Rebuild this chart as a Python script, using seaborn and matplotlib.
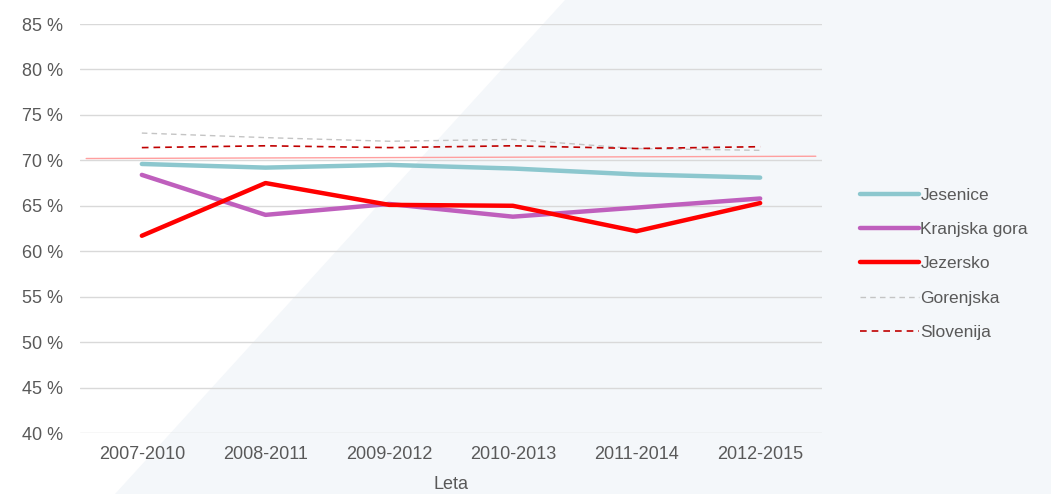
import numpy as np
import pandas as pd
import seaborn as sns
import matplotlib.pyplot as plt
from matplotlib.patches import Polygon
from matplotlib.ticker import FuncFormatter

# data
periods = ['2007-2010', '2008-2011', '2009-2012', '2010-2013', '2011-2014', '2012-2015']
jesenice = [69.6, 69.2, 69.5, 69.1, 68.45, 68.1]
kranjska_gora = [68.4, 64.0, 65.2, 63.8, 64.8, 65.8]
jezersko = [61.7, 67.5, 65.1, 65.0, 62.2, 65.3]
gorenjska = [73.0, 72.5, 72.1, 72.3, 71.3, 71.1]
slovenija = [71.4, 71.6, 71.4, 71.6, 71.3, 71.5]
ref_line = [70.2, 70.45]  # thin light red line across the plot
yticks = [40, 45, 50, 55, 60, 65, 70, 75, 80, 85]

series = [
    ('Jesenice', jesenice, '#8cc7ce', 3.2, '-'),
    ('Kranjska gora', kranjska_gora, '#bf5fbd', 3.2, '-'),
    ('Jezersko', jezersko, '#ff0000', 3.2, '-'),
    ('Gorenjska', gorenjska, '#c4c4c4', 1.0, (0, (4, 3))),
    ('Slovenija', slovenija, '#c00000', 1.2, (0, (4, 3))),
]

sns.set_theme(style='white')
plt.rcParams['font.family'] = ['Liberation Sans', 'DejaVu Sans']
text_col = '#595959'
fs = 13

fig = plt.figure(figsize=(10.51, 4.94), dpi=100)
fig.patch.set_facecolor('white')
# diagonal light background on the right
fig.patches.append(Polygon([(115 / 1051, 0), (565 / 1051, 1), (1, 1), (1, 0)],
                           closed=True, transform=fig.transFigure,
                           facecolor='#f4f7fa', edgecolor='none', zorder=-10))

ax = fig.add_axes([80 / 1051, 1 - 433 / 494, 742 / 1051, 409 / 494])
ax.set_facecolor('none')

for name, vals, col, lw, ls in series:
    df = pd.DataFrame({'Leta': periods, 'val': vals})
    sns.lineplot(data=df, x='Leta', y='val', ax=ax, color=col, linewidth=lw,
                 linestyle=ls, label=name, sort=False, solid_capstyle='round')

ax.plot([-0.45, 5.45], ref_line, color='#ff9f9f', linewidth=1.0, zorder=1)

ax.set_xlim(-0.5, 5.5)
ax.set_ylim(40, 85)
ax.set_yticks(yticks)
ax.yaxis.set_major_formatter(FuncFormatter(lambda v, p: f'{v:.0f} %'))
ax.grid(axis='y', color='#d9d9d9', linewidth=1.0)
ax.set_axisbelow(True)
for s in ax.spines.values():
    s.set_visible(False)
ax.tick_params(axis='y', length=0, pad=12, labelsize=fs, labelcolor=text_col)
ax.tick_params(axis='x', length=0, pad=9, labelsize=fs, labelcolor=text_col)
ax.set_ylabel('')
ax.set_xlabel('Leta', fontsize=fs, color=text_col, labelpad=10)

handles, labels = ax.get_legend_handles_labels()
ax.legend_.remove()
leg = fig.legend(handles, labels, loc='center left', bbox_to_anchor=(0.803, 0.466),
                 frameon=False, fontsize=12.5, handlelength=3.4, handletextpad=0.1,
                 labelspacing=1.1)
for t in leg.get_texts():
    t.set_color(text_col)

fig.savefig('out.png', dpi=100)
